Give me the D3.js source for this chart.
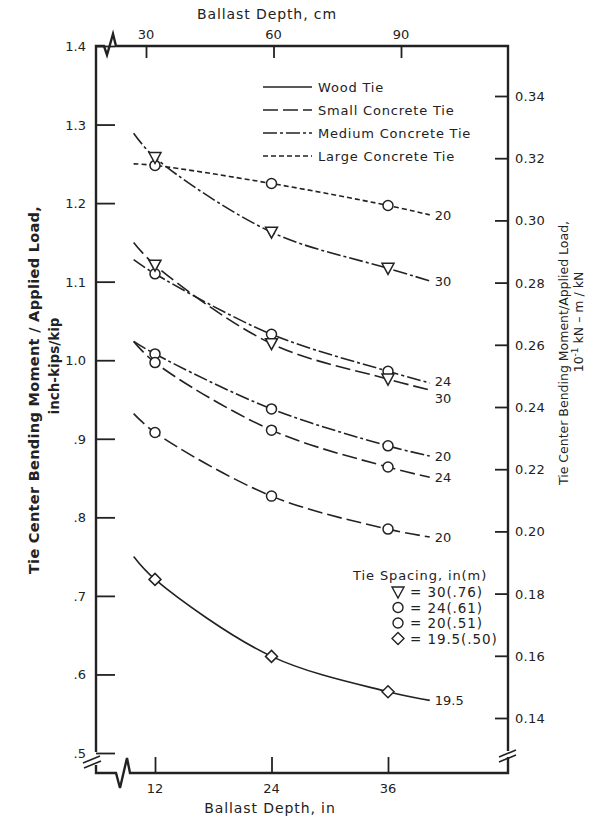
<!DOCTYPE html>
<html>
<head>
<meta charset="utf-8">
<script src="https://cdn.jsdelivr.net/npm/d3@7"></script>
<style>
  body { margin: 0; background: #fff; }
  text { font-family: "DejaVu Sans", sans-serif; fill: #222; }
</style>
</head>
<body>
<svg id="chart" width="595" height="818"></svg>
<script>
// ballast depth (in) at which each curve was read
var depthIn = [9.8, 12, 24, 36, 40.3]
var markerDepths = [12, 24, 36]

// moment / load values, inch-kips/kip
var largeConc20 = [1.250, 1.248, 1.225, 1.197, 1.185]
var medConc30   = [1.289, 1.258, 1.163, 1.117, 1.101]
var medConc24   = [1.128, 1.110, 1.033, 0.986, 0.971]
var smallConc30 = [1.150, 1.121, 1.021, 0.976, 0.962]
var medConc20   = [1.024, 1.008, 0.938, 0.891, 0.878]
var smallConc24 = [1.024, 0.997, 0.911, 0.864, 0.851]
var smallConc20 = [0.932, 0.908, 0.827, 0.785, 0.775]
var wood195     = [0.750, 0.721, 0.623, 0.578, 0.567]

var leftTicks = [0.5, 0.6, 0.7, 0.8, 0.9, 1.0, 1.1, 1.2, 1.3, 1.4]
var leftTickLabels = ['.5', '.6', '.7', '.8', '.9', '1.0', '1.1', '1.2', '1.3', '1.4']
var rightTicks = [0.14, 0.16, 0.18, 0.20, 0.22, 0.24, 0.26, 0.28, 0.30, 0.32, 0.34]
var bottomTicks = [12, 24, 36]
var topTicks = [30, 60, 90]

var tieTypes = ['Wood Tie', 'Small Concrete Tie', 'Medium Concrete Tie', 'Large Concrete Tie']
var spacingLegend = ['= 30(.76)', '= 24(.61)', '= 20(.51)', '= 19.5(.50)']
var spacingMarks = ['tri', 'circle', 'circle', 'diamond']

var series = [
  { v: largeConc20, type: 3, mark: 'circle', label: '20' },
  { v: medConc30, type: 2, mark: 'tri', label: '30' },
  { v: medConc24, type: 2, mark: 'circle', label: '24' },
  { v: smallConc30, type: 1, mark: 'tri', label: '30' },
  { v: medConc20, type: 2, mark: 'circle', label: '20' },
  { v: smallConc24, type: 1, mark: 'circle', label: '24' },
  { v: smallConc20, type: 1, mark: 'circle', label: '20' },
  { v: wood195, type: 0, mark: 'diamond', label: '19.5' }
]

var dashes = [null, '15,5', '14,3,3,3', '5,3']

var L = 96, R = 508, T = 46, B = 773
var svg = d3.select('#chart')

var x = d3.scaleLinear().domain([12, 36]).range([155, 388])
var xTop = d3.scaleLinear().domain([30, 90]).range([146, 401])
var y = d3.scaleLinear().domain([0.5, 1.4]).range([753, 46])
var yR = d3.scaleLinear().domain([0.14, 0.34]).range([718, 96])

// frame with break marks
var frame = svg.append('g').attr('fill', 'none').attr('stroke', '#222').attr('stroke-width', 2.4)
frame.append('path').attr('d',
  'M' + L + ',' + 752 + 'L' + L + ',' + T + 'L104,' + T + 'L107,55L113,34L116,' + T + 'L' + R + ',' + T +
  'L' + R + ',751')
frame.append('path').attr('d', 'M' + R + ',757L' + R + ',' + B + 'L130,' + B + 'L127,758L120,788L116,' + B + 'L' + L + ',' + B + 'L' + L + ',765')
frame.append('path').attr('stroke-width', 1.6).attr('d', 'M83,763L100,756M84,768L101,761')
frame.append('path').attr('stroke-width', 1.6).attr('d', 'M499,757L516,750M499,762L516,755')

// axes
var gl = svg.append('g').attr('transform', 'translate(' + L + ',0)')
  .call(d3.axisRight(y).tickValues(leftTicks).tickSize(19).tickFormat(''))
var gr = svg.append('g').attr('transform', 'translate(' + R + ',0)')
  .call(d3.axisLeft(yR).tickValues(rightTicks).tickSize(13).tickFormat(''))
var gb = svg.append('g').attr('transform', 'translate(0,' + B + ')')
  .call(d3.axisTop(x).tickValues(bottomTicks).tickSize(16).tickFormat(''))
var gt = svg.append('g').attr('transform', 'translate(0,' + T + ')')
  .call(d3.axisBottom(xTop).tickValues(topTicks).tickSize(12).tickFormat(''))
;[gl, gr, gb, gt].forEach(function (g) {
  g.select('.domain').remove()
  g.selectAll('line').attr('stroke', '#222').attr('stroke-width', 1.8)
})

svg.selectAll('.ltl').data(leftTicks).enter().append('text')
  .attr('x', 86).attr('y', function (d) { return y(d) + 5 })
  .attr('text-anchor', 'end').attr('font-size', 13)
  .text(function (d, i) { return leftTickLabels[i] })
svg.selectAll('.rtl').data(rightTicks).enter().append('text')
  .attr('x', 515).attr('y', function (d) { return yR(d) + 5 })
  .attr('font-size', 13).attr('letter-spacing', 0.3).text(function (d) { return d3.format('.2f')(d) })
svg.selectAll('.btl').data(bottomTicks).enter().append('text')
  .attr('x', function (d) { return x(d) }).attr('y', 793)
  .attr('text-anchor', 'middle').attr('font-size', 13).text(function (d) { return d })
svg.selectAll('.ttl').data(topTicks).enter().append('text')
  .attr('x', function (d) { return xTop(d) }).attr('y', 39)
  .attr('text-anchor', 'middle').attr('font-size', 13).text(function (d) { return d })

svg.append('text').attr('x', 270).attr('y', 813).attr('text-anchor', 'middle')
  .attr('font-size', 14).attr('letter-spacing', 0.9).text('Ballast  Depth,  in')
svg.append('text').attr('x', 267).attr('y', 19).attr('text-anchor', 'middle')
  .attr('font-size', 14).attr('letter-spacing', 0.9).text('Ballast Depth, cm')

svg.append('text').attr('transform', 'translate(39,390) rotate(-90)').attr('text-anchor', 'middle')
  .attr('font-size', 14.5).attr('font-weight', 'bold').attr('letter-spacing', 0.3)
  .text('Tie Center  Bending Moment / Applied Load,')
svg.append('text').attr('transform', 'translate(59,366) rotate(-90)').attr('text-anchor', 'middle')
  .attr('font-size', 13.5).attr('font-weight', 'bold')
  .text('inch-kips/kip')
svg.append('text').attr('transform', 'translate(568,353) rotate(-90)').attr('text-anchor', 'middle')
  .attr('font-size', 12.5)
  .text('Tie Center Bending Moment/Applied Load,')
var sub = svg.append('text').attr('transform', 'translate(583,322) rotate(-90)').attr('text-anchor', 'middle')
  .attr('font-size', 12.5)
sub.append('tspan').text('10')
sub.append('tspan').attr('dy', -5).attr('font-size', 9).text('-1')
sub.append('tspan').attr('dy', 5).text(' kN \u2013 m / kN')

// curves
var line = d3.line()
  .x(function (d, i) { return x(depthIn[i]) })
  .y(function (d) { return y(d) })
  .curve(d3.curveCatmullRom.alpha(0.5))

svg.selectAll('.curve').data(series).enter().append('path')
  .attr('d', function (s) { return line(s.v) })
  .attr('fill', 'none').attr('stroke', '#222').attr('stroke-width', 1.6)
  .attr('stroke-dasharray', function (s) { return dashes[s.type] })

function marker(g, kind, cx, cy) {
  if (kind === 'circle') {
    g.append('circle').attr('cx', cx).attr('cy', cy).attr('r', 5)
  } else if (kind === 'tri') {
    g.append('path').attr('d', 'M' + (cx - 6) + ',' + (cy - 5) + 'L' + (cx + 6) + ',' + (cy - 5) + 'L' + cx + ',' + (cy + 6) + 'Z')
  } else {
    g.append('path').attr('d', 'M' + cx + ',' + (cy - 6) + 'L' + (cx + 6) + ',' + cy + 'L' + cx + ',' + (cy + 6) + 'L' + (cx - 6) + ',' + cy + 'Z')
  }
}

var marks = svg.append('g').attr('fill', '#fff').attr('stroke', '#222').attr('stroke-width', 1.5)
series.forEach(function (s) {
  markerDepths.forEach(function (dep) {
    var i = depthIn.indexOf(dep)
    marker(marks, s.mark, x(dep), y(s.v[i]))
  })
})

// end labels, small nudges where two curves end close together
var nudge = { 2: -2, 3: 8 }
series.forEach(function (s, k) {
  var last = s.v.length - 1
  svg.append('text').attr('x', x(depthIn[last]) + 5)
    .attr('y', y(s.v[last]) + 5 + (nudge[k] || 0))
    .attr('font-size', 13).text(s.label)
})

// line style legend
var lg = svg.append('g')
tieTypes.forEach(function (t, i) {
  var ly = 87 + i * 23
  lg.append('line').attr('x1', 263).attr('x2', 312).attr('y1', ly).attr('y2', ly)
    .attr('stroke', '#222').attr('stroke-width', 1.6).attr('stroke-dasharray', dashes[i])
  lg.append('text').attr('x', 318).attr('y', ly + 5).attr('font-size', 13)
    .attr('letter-spacing', 0.8).text(t)
})

// tie spacing legend
svg.append('text').attr('x', 353).attr('y', 580).attr('font-size', 13)
  .attr('letter-spacing', 0.9).text('Tie Spacing, in(m)')
var sg = svg.append('g').attr('fill', '#fff').attr('stroke', '#222').attr('stroke-width', 1.4)
spacingLegend.forEach(function (t, i) {
  var ly = 592 + i * 15.5
  marker(sg, spacingMarks[i], 398, ly)
  svg.append('text').attr('x', 410).attr('y', ly + 5).attr('font-size', 13.5)
    .attr('letter-spacing', 0.9).text(t)
})
</script>
</body>
</html>
